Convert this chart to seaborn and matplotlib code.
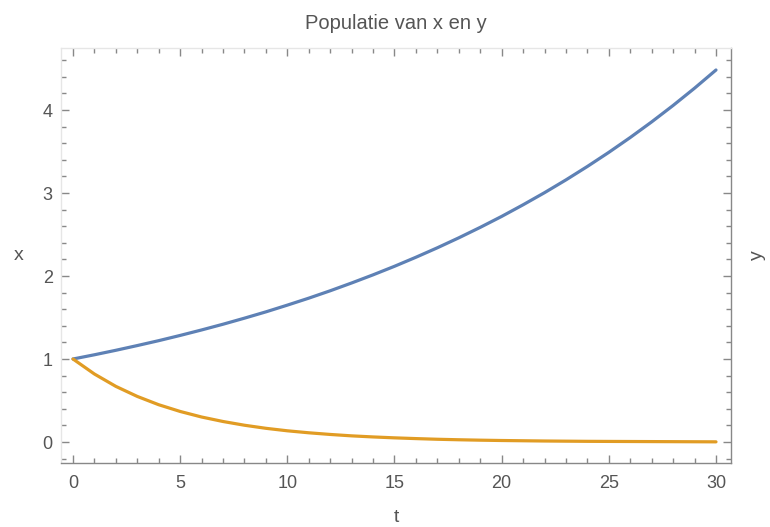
import numpy as np
import pandas as pd
import matplotlib
matplotlib.use("Agg")
import matplotlib.pyplot as plt
from matplotlib.ticker import MultipleLocator
import seaborn as sns

t_vals = list(range(0, 31))
x_vals = [1.000, 1.051, 1.105, 1.162, 1.221, 1.284, 1.350, 1.419, 1.492, 1.568,
          1.649, 1.733, 1.822, 1.916, 2.014, 2.117, 2.226, 2.340, 2.460, 2.586,
          2.718, 2.858, 3.004, 3.158, 3.320, 3.490, 3.669, 3.857, 4.055, 4.263,
          4.482]
y_vals = [1.000, 0.819, 0.670, 0.549, 0.449, 0.368, 0.301, 0.247, 0.202, 0.165,
          0.135, 0.111, 0.091, 0.074, 0.061, 0.050, 0.041, 0.033, 0.027, 0.022,
          0.018, 0.015, 0.012, 0.010, 0.008, 0.007, 0.006, 0.005, 0.004, 0.003,
          0.002]

title = "Populatie van x en y"
xlabel = "t"
ylabel_left = "x"
ylabel_right = "y"
xticks = [0, 5, 10, 15, 20, 25, 30]
yticks = [0, 1, 2, 3, 4]

df = pd.DataFrame({"t": t_vals * 2,
                   "value": x_vals + y_vals,
                   "series": ["x"] * len(t_vals) + ["y"] * len(t_vals)})

sns.set_style("ticks")
plt.rcParams["font.family"] = ["Liberation Sans", "DejaVu Sans"]

fig = plt.figure(figsize=(7.7, 5.27), dpi=100)
ax = fig.add_axes([61 / 770, 1 - 463 / 527, 670 / 770, 415 / 527])

sns.lineplot(data=df, x="t", y="value", hue="series",
             palette={"x": "#5E81B5", "y": "#E19C24"},
             linewidth=2.3, legend=False, ax=ax)

ax.set_xlim(-0.56, 30.7)
ax.set_ylim(-0.253, 4.747)
ax.set_xticks(xticks)
ax.set_yticks(yticks)
ax.xaxis.set_minor_locator(MultipleLocator(1))
ax.yaxis.set_minor_locator(MultipleLocator(0.2))

tick_col = "#888888"
lab_col = "#555555"
ax.tick_params(which="both", direction="in", top=True, right=True,
               color=tick_col, width=1.0)
ax.tick_params(which="major", length=6)
ax.tick_params(which="minor", length=3.5)
ax.tick_params(axis="x", which="major", labelsize=13, labelcolor=lab_col, pad=8.5)
ax.tick_params(axis="y", which="major", labelsize=13, labelcolor=lab_col, pad=6)

for side in ["bottom", "right"]:
    ax.spines[side].set_color("#888888")
    ax.spines[side].set_linewidth(1.0)
for side in ["left", "top"]:
    ax.spines[side].set_color("#e6e6e6")
    ax.spines[side].set_linewidth(1.0)

ax.set_title(title, fontsize=14.5, color=lab_col, pad=13.5)
ax.set_xlabel(xlabel, fontsize=14, color=lab_col)
ax.set_ylabel(ylabel_left, fontsize=14, color=lab_col, rotation=0,
              va="center", ha="center")
ax.xaxis.set_label_coords(0.5, -0.112)
ax.yaxis.set_label_coords(-0.063, 0.5)
ax.text(1.039, 0.5, ylabel_right, transform=ax.transAxes, rotation=90,
        fontsize=14, color=lab_col, ha="center", va="center")

fig.savefig("out.png", dpi=100)
